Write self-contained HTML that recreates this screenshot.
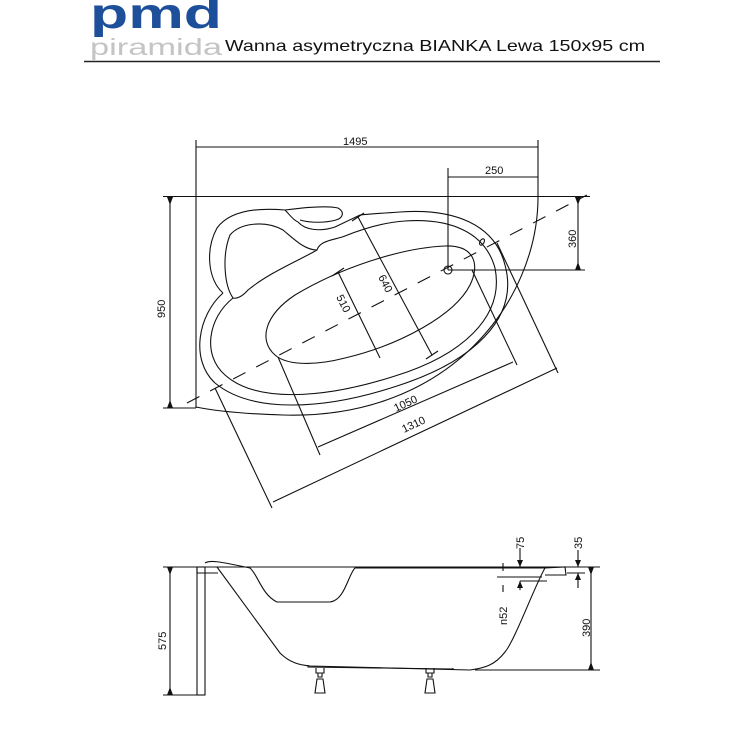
<!DOCTYPE html>
<html><head><meta charset="utf-8"><style>
body{margin:0;background:#fff;width:750px;height:750px;overflow:hidden;font-family:"Liberation Sans",sans-serif}
</style></head><body>
<svg width="750" height="750" viewBox="0 0 750 750" xmlns="http://www.w3.org/2000/svg" font-family="Liberation Sans, sans-serif">
<text x="90" y="28" font-size="43" font-weight="bold" fill="#1d4f9a" textLength="132" lengthAdjust="spacingAndGlyphs">pmd</text>
<text x="90" y="55" font-size="23" fill="#c4c4c4" textLength="132" lengthAdjust="spacingAndGlyphs">piramida</text>
<text x="225" y="51" font-size="16" fill="#111" textLength="420" lengthAdjust="spacingAndGlyphs">Wanna asymetryczna BIANKA Lewa 150x95 cm</text>
<line x1="84" y1="61.5" x2="660" y2="61.5" stroke="#222" stroke-width="1.5"/>

<g fill="none" stroke="#111" stroke-width="1.1">
<line x1="163" y1="196.5" x2="590" y2="196.5"/>
<line x1="196" y1="140" x2="196" y2="408"/>
<line x1="196" y1="147" x2="538" y2="147"/>
<line x1="538" y1="140" x2="538" y2="197"/>
<line x1="448" y1="177" x2="538" y2="177"/>
<line x1="448" y1="168" x2="448" y2="270"/>
<line x1="170" y1="197" x2="170" y2="408"/>
<line x1="163" y1="408" x2="196" y2="408"/>
<line x1="578" y1="197" x2="578" y2="270"/>
<line x1="448" y1="270" x2="585" y2="270"/>
<path d="M538,197 C538,300 450,420 283,415 C250,414 220,412 196,407"/>
<!-- rim outer -->
<path d="M223,293 C198,315 190,360 215,383 C250,412 320,412 400,385 C470,362 520,320 505,265 C495,225 455,208 400,212 C385,213 370,214 360,215 L335,227 C320,232 305,230 298,222"/>
<!-- outer headrest -->
<path d="M223,293 C208,280 205,250 217,228 C228,213 250,207 285,210 C290,215 293,220 298,222"/>
<!-- pillow -->
<path d="M285,210 C300,208 325,205 338,208 C345,212 343,218 336,220 C325,223 310,223 300,220"/>
<!-- rim inner + cushion -->
<path d="M233,298 C208,318 202,355 225,375 C255,402 320,400 395,376 C460,356 505,318 495,268 C485,232 450,218 405,221 C390,222 370,226 345,236 C335,240 320,240 317,250 C300,260 270,272 248,290 C242,297 236,299 233,298 C224,285 222,255 230,235 C240,223 265,220 283,230 C295,240 305,250 317,250"/>
<!-- basin -->
<path d="M275,355 C258,340 265,315 295,295 C340,268 400,248 445,246 C475,245 480,265 470,285 C455,315 400,345 345,358 C310,367 285,364 275,355 Z"/>
<circle cx="448" cy="270" r="4"/>
<ellipse cx="482" cy="242" rx="2" ry="3.5" transform="rotate(30 482 242)"/>
<line x1="187" y1="403" x2="587" y2="195" stroke-dasharray="14,12"/>
<line x1="358" y1="217" x2="432" y2="355"/>
<line x1="352" y1="221" x2="364" y2="213"/><line x1="426" y1="359" x2="438" y2="351"/>
<line x1="338" y1="272" x2="380" y2="358"/>
<line x1="332" y1="276" x2="344" y2="268"/>
<line x1="318" y1="447" x2="513" y2="362"/>
<line x1="278" y1="357" x2="320" y2="455"/>
<line x1="472" y1="270" x2="517" y2="365"/>
<line x1="273" y1="502" x2="557" y2="368"/>
<line x1="215" y1="388" x2="272" y2="508"/>
<line x1="497" y1="243" x2="558" y2="373"/>

<!-- side view -->
<line x1="163" y1="567" x2="600" y2="567"/>
<rect x="197" y="567" width="8" height="128"/>
<line x1="163" y1="695" x2="197" y2="695"/>
<line x1="170" y1="567" x2="170" y2="695"/>
<line x1="591" y1="567" x2="591" y2="670"/>
<line x1="475" y1="670" x2="600" y2="670"/>
<path d="M197,567 L197,573 L218,573"/>
<path d="M205,563 C210,560 217,561 250,568 C258,575 262,595 277,602 L330,602 C345,600 348,575 355,568 L545,568"/>
<path d="M217,567 L280,653 C290,663 300,665 310,666 L470,670"/>
<path d="M545,568 C535,585 515,640 505,652 C495,665 485,668 470,670"/>
<path d="M545,568 L565,567 L566,575 L545,575"/>
<path d="M308,665 L308,667 L453,669 L453,668"/>
<line x1="497" y1="577" x2="542" y2="577"/>
<line x1="520" y1="581" x2="547" y2="581"/>
<line x1="567" y1="573" x2="585" y2="573"/>
<path d="M316,668 L316,673 L324,673 L324,668 M318,673 L318,677 L322,677 L322,673 M315,693 L317,679 L323,679 L325,693 Z"/>
<path d="M426,668 L426,673 L434,673 L434,668 M428,673 L428,677 L432,677 L432,673 M425,693 L427,679 L433,679 L435,693 Z"/>
<line x1="520" y1="548" x2="520" y2="567"/>
<line x1="520" y1="581" x2="520" y2="590"/>
<line x1="503" y1="563" x2="503" y2="571"/>
<line x1="503" y1="585" x2="503" y2="592"/>
<line x1="578" y1="550" x2="578" y2="567"/>
<line x1="578" y1="573" x2="578" y2="588"/>
</g>
<g fill="#111">
<path d="M167,567 L173,567 L170,575Z M167,695 L173,695 L170,687Z"/>
<path d="M588,567 L594,567 L591,575Z M588,670 L594,670 L591,662Z"/>
<path d="M517,560 L523,560 L520,567Z M517,588 L523,588 L520,581Z"/>
<path d="M575,560 L581,560 L578,567Z M575,580 L581,580 L578,573Z"/>
<path d="M167,197 L173,197 L170,205Z M167,408 L173,408 L170,400Z"/>
<path d="M575,197 L581,197 L578,205Z M575,270 L581,270 L578,262Z"/>
</g>
<g font-size="11" fill="#111">
<text x="343" y="145">1495</text>
<text x="485" y="174">250</text>
<text transform="translate(165,318) rotate(-90)">950</text>
<text transform="translate(576,248) rotate(-90)">360</text>
<text transform="translate(378,277) rotate(63)">640</text>
<text transform="translate(336,297) rotate(63)">510</text>
<text transform="translate(396,412) rotate(-25)">1050</text>
<text transform="translate(404,433) rotate(-25)">1310</text>
<text transform="translate(166,650) rotate(-90)">575</text>
<text transform="translate(590,637) rotate(-90)">390</text>
<text transform="translate(524,549) rotate(-90)">75</text>
<text transform="translate(582,549) rotate(-90)">35</text>
<text transform="translate(507,625) rotate(-90)">n52</text>
</g>
</svg>
</body></html>
